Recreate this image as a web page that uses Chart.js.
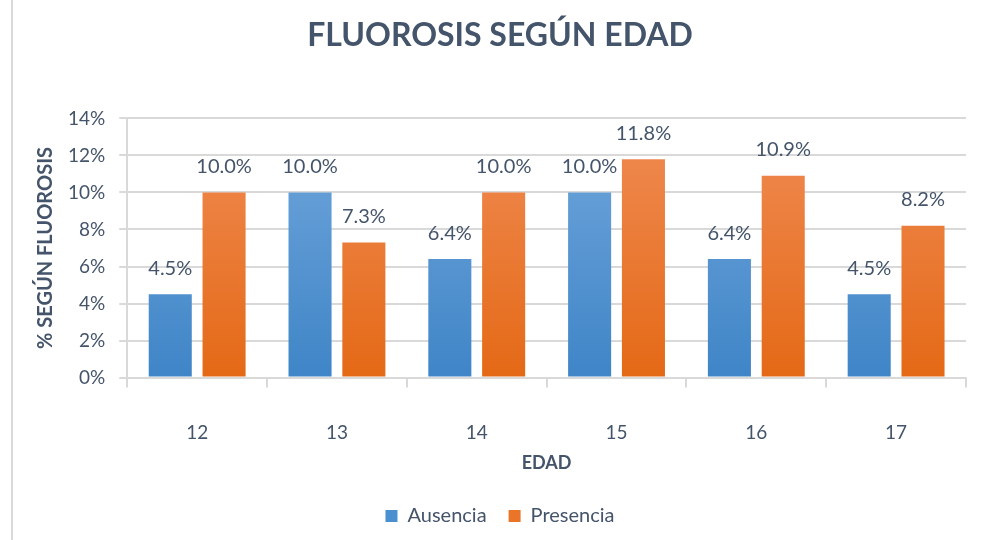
<!DOCTYPE html>
<html lang="es">
<head>
    <meta charset="UTF-8">
    <title>Fluorosis según edad</title>
    <script src="https://cdn.jsdelivr.net/npm/chart.js"></script>
    <style>
        html, body { margin: 0; padding: 0; background: #fff; }
        .wrap { position: relative; height: 540px; box-sizing: border-box; border-left: 2px solid #d9d9d9; margin-left: 11px; width: 970px; }
    </style>
</head>
<body>
    <div class="wrap">
        <canvas id="chart" width="968" height="540"></canvas>
    </div>
    <script>
        // Datos del gráfico
        const edades = ['12', '13', '14', '15', '16', '17'];
        const ausencia = [4.5, 10.0, 6.4, 10.0, 6.4, 4.5];
        const presencia = [10.0, 7.3, 10.0, 11.8, 10.9, 8.2];
        const series = ['Ausencia', 'Presencia'];

        const textColor = '#44546a';
        const fontFamily = 'Lato, "Open Sans", sans-serif';

        function gradient(ctx, top, bottom) {
            const area = ctx.chart.chartArea;
            if (!area) return bottom;
            const g = ctx.chart.ctx.createLinearGradient(0, area.top, 0, area.bottom);
            g.addColorStop(0, top);
            g.addColorStop(1, bottom);
            return g;
        }

        // Etiquetas de valor sobre las barras
        const valueLabels = {
            id: 'valueLabels',
            afterDatasetsDraw(chart) {
                const c = chart.ctx;
                c.save();
                c.font = '20px ' + fontFamily;
                c.fillStyle = textColor;
                c.textAlign = 'center';
                c.textBaseline = 'bottom';
                chart.data.datasets.forEach((ds, i) => {
                    chart.getDatasetMeta(i).data.forEach((bar, j) => {
                        c.fillText(ds.data[j].toFixed(1) + '%', bar.x, bar.y - 16);
                    });
                });
                c.restore();
            }
        };

        new Chart(document.getElementById('chart'), {
            type: 'bar',
            data: {
                labels: edades,
                datasets: [{
                    label: series[0],
                    data: ausencia,
                    backgroundColor: ctx => gradient(ctx, '#72a7dc', '#3f85c7'),
                    categoryPercentage: 0.77,
                    barPercentage: 0.8
                }, {
                    label: series[1],
                    data: presencia,
                    backgroundColor: ctx => gradient(ctx, '#f08c55', '#e46916'),
                    categoryPercentage: 0.77,
                    barPercentage: 0.8
                }]
            },
            options: {
                responsive: false,
                animation: false,
                layout: { padding: { top: 16, right: 15, left: 21, bottom: 4 } },
                plugins: {
                    title: {
                        display: true,
                        text: 'FLUOROSIS SEGÚN EDAD',
                        color: textColor,
                        font: { family: fontFamily, size: 32, weight: 'bold' },
                        padding: { top: 0, bottom: 64 }
                    },
                    legend: {
                        position: 'bottom',
                        labels: {
                            color: textColor,
                            font: { family: fontFamily, size: 20 },
                            boxWidth: 12,
                            boxHeight: 12,
                            padding: 22,
                            generateLabels: chart => series.map((s, i) => ({
                                text: s,
                                fillStyle: i === 0 ? '#4a8fd0' : '#ea7428',
                                strokeStyle: 'transparent',
                                lineWidth: 0,
                                datasetIndex: i,
                                fontColor: textColor
                            }))
                        }
                    },
                    tooltip: { enabled: false }
                },
                scales: {
                    x: {
                        grid: { display: true, drawOnChartArea: false, color: '#d9d9d9', lineWidth: 2, tickLength: 10, offset: true },
                        border: { color: '#d9d9d9', width: 2 },
                        ticks: { color: textColor, font: { family: fontFamily, size: 19 }, padding: 34 },
                        title: {
                            display: true,
                            text: 'EDAD',
                            color: textColor,
                            font: { family: fontFamily, size: 18, weight: 'bold' },
                            padding: { top: -26, bottom: 10 }
                        }
                    },
                    y: {
                        min: 0,
                        max: 14,
                        ticks: {
                            stepSize: 2,
                            color: textColor,
                            font: { family: fontFamily, size: 19 },
                            padding: 14,
                            callback: v => v + '%'
                        },
                        grid: { color: '#d9d9d9', lineWidth: 2, tickLength: 8 },
                        border: { color: '#d9d9d9', width: 2 },
                        title: {
                            display: true,
                            text: '% SEGÚN FLUOROSIS',
                            color: textColor,
                            font: { family: fontFamily, size: 20, weight: 'bold' },
                            padding: { top: 0, bottom: -4 }
                        }
                    }
                }
            },
            plugins: [valueLabels]
        });
    </script>
</body>
</html>
